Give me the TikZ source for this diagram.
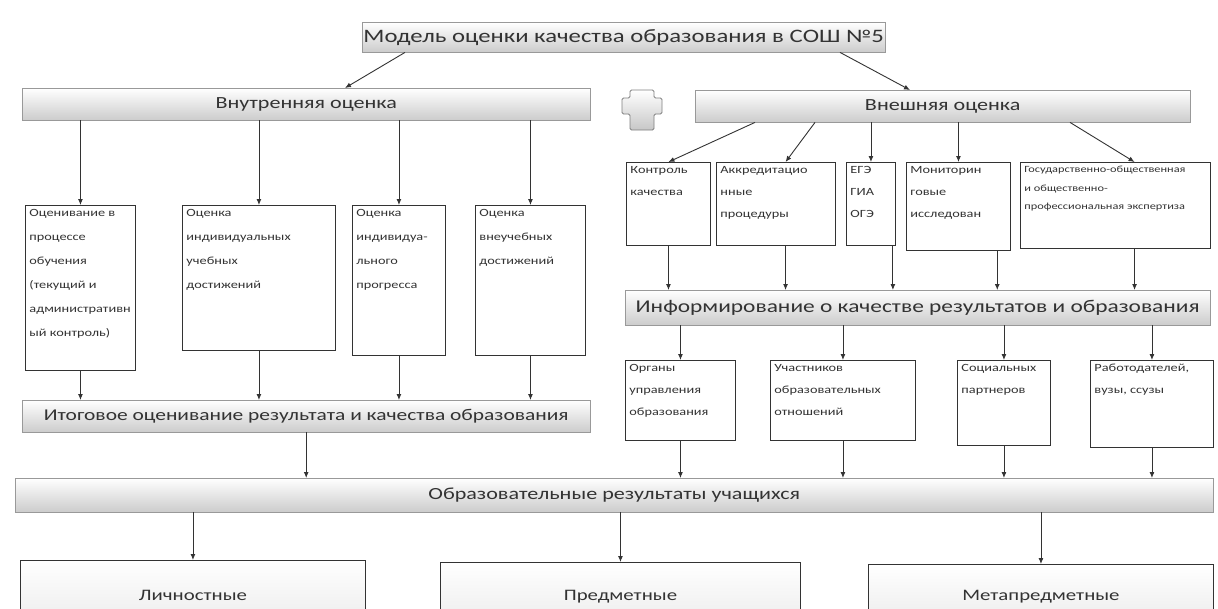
\documentclass[tikz,border=0pt]{standalone}
\usepackage{fontspec}
\setmainfont{Carlito}[FakeStretch=1.3]
\usetikzlibrary{arrows.meta,positioning,calc}

\newcommand{\boxtxt}[3]{\parbox[t][#2][t]{#1}{\raggedright #3}}

\tikzset{
  bar/.style={draw=black!40, top color=white, bottom color=black!20, anchor=north west,
    inner sep=0pt, text=black!80},
  sbox/.style={draw=black!80, line width=0.9pt, fill=white, anchor=north west, inner sep=4pt,
    text=black!80, font=\fontsize{11}{#1}\selectfont},
  sbox/.default=22,
  bigbox/.style={draw=black!80, line width=0.9pt, top color=white, bottom color=black!8,
    anchor=north west, inner sep=0pt, text=black!80, font=\fontsize{16}{18}\selectfont},
  arr/.style={-{Latex[length=6pt,width=5pt]}, draw=black!80, line width=0.9pt},
}

\begin{document}
\begin{tikzpicture}[x=1pt, y=-1pt]
  \useasboundingbox (0,0) rectangle (1218,608);
  \fill[white] (0,0) rectangle (1218,608);
  \clip (0,0) rectangle (1218,608);

  % top level
  \node[bar, minimum width=523pt, minimum height=30pt, font=\fontsize{19}{21}\selectfont]
    (model) at (362,22) {Модель оценки качества образования в СОШ №5};
  \node[bar, minimum width=568pt, minimum height=32pt, font=\fontsize{17}{19}\selectfont]
    (vnutr) at (22,88) {Внутренняя оценка};
  \node[bar, minimum width=495pt, minimum height=32pt, font=\fontsize{17}{19}\selectfont]
    (vnesh) at (695,90) {Внешняя оценка};
  \shade[top color=white, bottom color=black!22, draw=black!50, line width=0.8pt, rounded corners=1.5pt]
    (630,90) -- (654,90) -- (654,98) -- (662,98) -- (662,114) -- (654,114) -- (654,130)
    -- (630,130) -- (630,114) -- (622,114) -- (622,98) -- (630,98) -- cycle;

  \draw[arr] ($(model.south west)+(43,0)$) -- ($(vnutr.north west)+(323,0)$);
  \draw[arr] ($(model.south west)+(478,0)$) -- ($(vnesh.north west)+(215,0)$);

  % internal assessment
  \node[sbox=24] (ocproc) at (25,205) {\boxtxt{102pt}{157pt}{Оценивание в\\процессе\\обучения\\(текущий и\\административн\\ый контроль)}};
  \node[sbox=24] (ocind) at (182,205) {\boxtxt{145pt}{137pt}{Оценка\\индивидуальных\\учебных\\достижений}};
  \node[sbox=24] (ocprog) at (352,205) {\boxtxt{85pt}{142pt}{Оценка\\индивидуа-\\льного\\прогресса}};
  \node[sbox=24] (ocvne) at (475,205) {\boxtxt{102pt}{142pt}{Оценка\\внеучебных\\достижений}};
  \node[bar, minimum width=568pt, minimum height=32pt, font=\fontsize{16.5}{19}\selectfont]
    (itog) at (22,400) {Итоговое оценивание результата и качества образования};

  \foreach \b in {ocproc,ocind,ocprog,ocvne}{
    \draw[arr] (\b.north |- vnutr.south) -- (\b.north);
    \draw[arr] (\b.south) -- (\b.south |- itog.north);
  }

  % external assessment
  \node[sbox] (kontr) at (626,162) {\boxtxt{76pt}{75pt}{Контроль\\качества}};
  \node[sbox] (akkr) at (716,162) {\boxtxt{111pt}{75pt}{Аккредитацио\\нные\\процедуры}};
  \node[sbox] (ege) at (846,162) {\boxtxt{41pt}{75pt}{ЕГЭ\\ГИА\\ОГЭ}};
  \node[sbox] (monit) at (906,162) {\boxtxt{96pt}{80pt}{Мониторин\\говые\\исследован}};
  \node[sbox, font=\fontsize{9.5}{18.5}\selectfont] (gos) at (1020,162)
    {\boxtxt{182pt}{78pt}{Государственно-общественная\\и общественно-\\профессиональная экспертиза}};
  \node[bar, minimum width=585pt, minimum height=35pt, font=\fontsize{18}{20}\selectfont]
    (inform) at (625,290) {Информирование о качестве результатов и образования};

  \draw[arr] ($(vnesh.south west)+(60,0)$) -- (kontr.north);
  \draw[arr] ($(vnesh.south west)+(120,0)$) -- ($(akkr.north west)!0.58!(akkr.north east)$);
  \draw[arr] (ege.north |- vnesh.south) -- (ege.north);
  \draw[arr] (monit.north |- vnesh.south) -- (monit.north);
  \draw[arr] ($(vnesh.south west)+(375,0)$) -- ($(gos.north west)!0.6!(gos.north east)$);

  \draw[arr] (kontr.south) -- (kontr.south |- inform.north);
  \draw[arr] ($(akkr.south west)!0.58!(akkr.south east)$) coordinate (a1) -- (a1 |- inform.north);
  \draw[arr] ($(ege.south east)+(-3,0)$) coordinate (e1) -- (e1 |- inform.north);
  \draw[arr] ($(monit.south west)!0.87!(monit.south east)$) coordinate (m1) -- (m1 |- inform.north);
  \draw[arr] ($(gos.south west)!0.6!(gos.south east)$) coordinate (g1) -- (g1 |- inform.north);

  % recipients of information
  \node[sbox] (organ) at (625,360) {\boxtxt{102pt}{72pt}{Органы\\управления\\образования}};
  \node[sbox] (uchast) at (770,360) {\boxtxt{137pt}{72pt}{Участников\\образовательных\\отношений}};
  \node[sbox] (socp) at (957,360) {\boxtxt{85pt}{77pt}{Социальных\\партнеров}};
  \node[sbox] (rabot) at (1090,360) {\boxtxt{115pt}{79pt}{Работодателей,\\вузы, ссузы}};

  % results
  \node[bar, minimum width=1198pt, minimum height=34pt, font=\fontsize{17}{19}\selectfont]
    (obraz) at (15,478) {Образовательные результаты учащихся};

  \foreach \b in {organ,uchast,socp,rabot}{
    \draw[arr] (\b.north |- inform.south) -- (\b.north);
    \draw[arr] (\b.south) -- (\b.south |- obraz.north);
  }
  \draw[arr] (itog.south) -- (itog.south |- obraz.north);

  \node[bigbox, minimum width=345pt, minimum height=70pt] (lichn) at (20,560) {Личностные};
  \node[bigbox, minimum width=360pt, minimum height=68pt] (predm) at (440,562) {Предметные};
  \node[bigbox, minimum width=345pt, minimum height=64pt] (metap) at (868,564) {Метапредметные};

  \foreach \b in {lichn,predm,metap}
    \draw[arr] (\b.north |- obraz.south) -- (\b.north);
\end{tikzpicture}
\end{document}
